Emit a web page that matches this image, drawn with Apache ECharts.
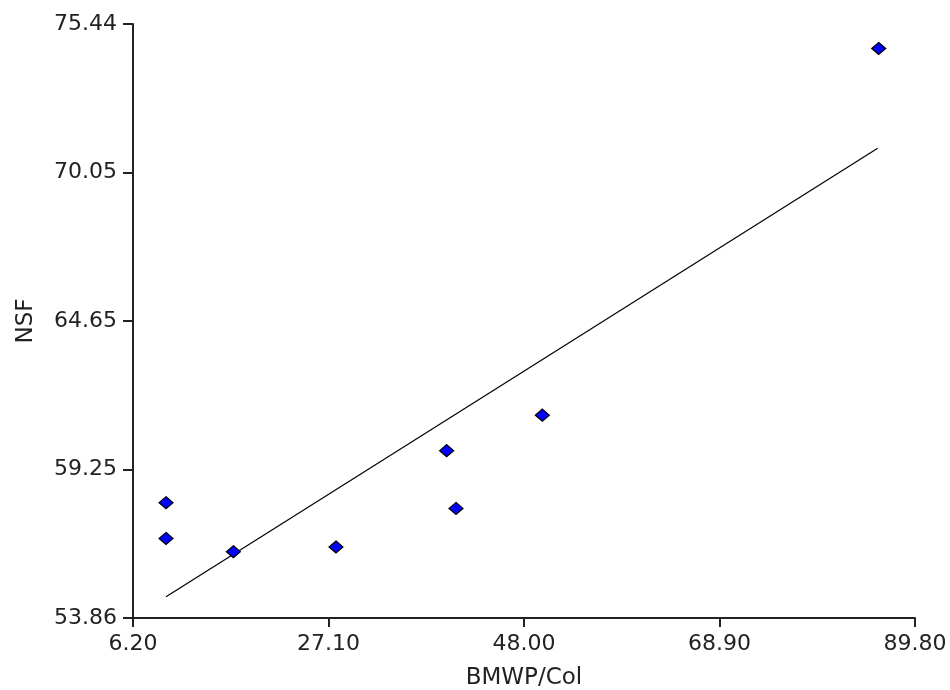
<!DOCTYPE html>
<html>
<head>
<meta charset="utf-8">
<script src="https://cdn.jsdelivr.net/npm/echarts@6/dist/echarts.min.js"></script>
<style>html,body{margin:0;padding:0;background:#fff;}#c{width:950px;height:690px;}</style>
</head>
<body>
<div id="c"></div>
<script>
var xValues = [9.73, 9.73, 16.93, 27.9, 39.73, 40.73, 49.96, 85.92];
var yValues = [58.05, 56.75, 56.27, 56.44, 59.94, 57.84, 61.23, 74.55];
var trendX = [9.73, 85.81];
var trendY = [54.63, 70.93];
var xTicks = [6.20, 27.10, 48.00, 68.90, 89.80];
var yTicks = [53.86, 59.25, 64.65, 70.05, 75.44];

var chart = echarts.init(document.getElementById('c'));
var font = 'DejaVu Sans';
var pts = xValues.map(function(x, i){ return [x, yValues[i]]; });
var line = trendX.map(function(x, i){ return [x, trendY[i]]; });
function fmt(v){ return Number(v).toFixed(2); }
var axisCommon = {
  axisLine: {show: true, lineStyle: {color: '#222', width: 2}},
  splitLine: {show: false},
  nameTextStyle: {color: '#222', fontFamily: font, fontSize: 23}
};
chart.setOption({
  animation: false,
  backgroundColor: '#fff',
  grid: {left: 133, right: 35, top: 24, bottom: 72, containLabel: false, outerBoundsMode: 'none'},
  xAxis: Object.assign({}, axisCommon, {
    type: 'value', min: xTicks[0], max: xTicks[xTicks.length-1],
    name: 'BMWP/Col', nameLocation: 'middle', nameGap: 49,
    axisTick: {show: true, inside: false, length: 9, lineStyle: {color: '#222', width: 2}, customValues: xTicks},
    axisLabel: {customValues: xTicks, formatter: fmt, color: '#222', fontFamily: font, fontSize: 22, margin: 15}
  }),
  yAxis: Object.assign({}, axisCommon, {
    type: 'value', min: yTicks[0], max: yTicks[yTicks.length-1],
    name: 'NSF', nameLocation: 'middle', nameGap: 95, nameRotate: 90,
    axisTick: {show: true, inside: false, length: 10, lineStyle: {color: '#222', width: 2}, customValues: yTicks},
    axisLabel: {customValues: yTicks, formatter: fmt, color: '#222', fontFamily: font, fontSize: 22, margin: 16}
  }),
  series: [
    {type: 'line', data: line, symbol: 'none', lineStyle: {color: '#000', width: 1.2}, silent: true, z: 1},
    {type: 'scatter', data: pts, symbol: 'diamond', symbolSize: [14, 12],
     itemStyle: {color: '#0000ff', borderColor: '#000', borderWidth: 1.2, opacity: 1}, z: 2}
  ]
});
</script>
</body>
</html>
